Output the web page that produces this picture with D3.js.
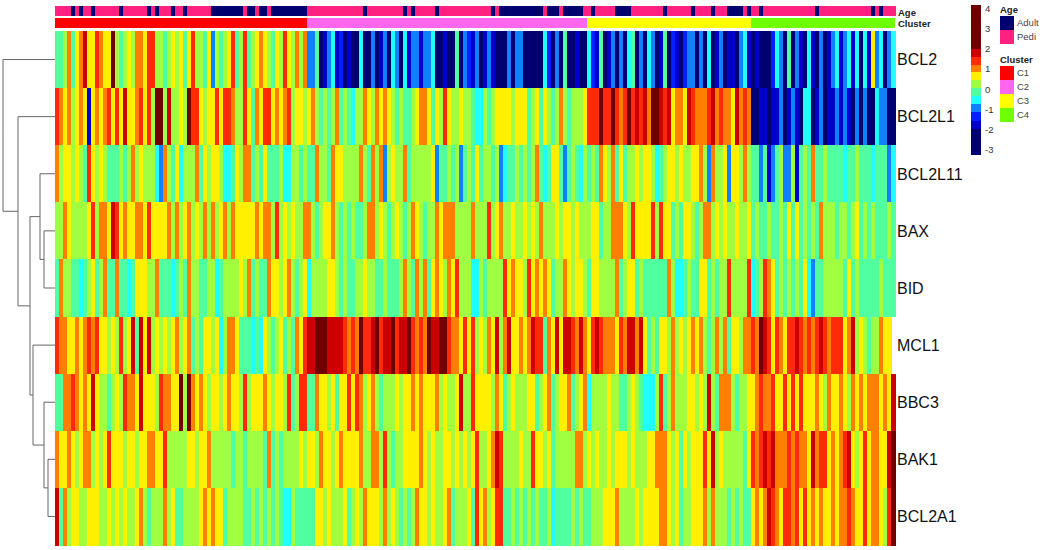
<!DOCTYPE html>
<html>
<head>
<meta charset="utf-8">
<script src="https://cdn.jsdelivr.net/npm/d3@7"></script>
<style>
  html, body { margin: 0; padding: 0; background: #fff; }
  svg { display: block; font-family: "Liberation Sans", Arial, sans-serif; }
</style>
</head>
<body>
<div id="chart"></div>
<script>
// expression values, one line per cluster (C1, C2, C3, C4)
const bcl2 = [
  -.1,-.1,.3,1,-.1,.6,1,1.8,.6,.6,1.4,1,.6,.6,2.5,.3,-.1,.3,.6,.3,1,1,.6,1.4,1.4,.3,.3,-.1,.3,.6,.3,.6,-.1,.6,1.4,.3,.3,-.1,.6,-1,.3,-.1,.3,.6,1.4,-.1,.3,1.4,-.1,.3,.6,1,.6,.3,-.1,.6,.3,1.4,.6,.3,1,.3,1,
  -1,-1,-.1,-2.5,-1.8,-1,-.5,-1.8,-1.4,-2.5,-1.8,-2.5,-2.5,-.5,-2.5,-2.5,-1,-2.5,-1.8,-1,-2.5,-.5,-1,-2.5,-.5,-1.8,-1,-1,-1.8,-1,-1,-.5,-2.5,-2.5,-1.8,-2.5,-2.5,-.1,-2.5,-1,-1.4,-1.8,-1,-2.5,-1.8,-1,-1.8,-2.5,-2.5,-2.5,-1,-2.5,-1,-1,-2.5,-2.5,-2.5,-2.5,-2.5,-.5,-1.4,-2.5,-1,-2.5,-.1,-2.5,-2.5,-1.8,-2.5,-2.5,
  -.5,-1.4,-1.8,-.1,-2.5,-1.8,-1,-2.5,-1,-2.5,-.5,-.1,-2.5,-1,-2.5,-.5,-1,-2.5,-1.8,-.1,-2.5,-1.4,-1.8,-2.5,-1.4,-1,-1,-2.5,-1,-2.5,-.5,-2.5,-1.8,-1,-2.5,-1.8,-1.8,-2.5,-1,-.5,-1.8,
  -2.5,-1.8,-2.5,-2.5,-2.5,-1.4,-.5,-1,-2.5,-.1,-2.5,-1,-1.8,-2.5,-.5,-1.8,-2.5,-1,-2.5,-1.8,-1,-.5,-1.8,-1,-.5,-1.8,-.5,-2.5,-.5,-1.8,.6,-1,-.5,-2.5,-1,-.5
];
const bcl2l1 = [
  1.4,1,.6,1,.3,.6,1,.6,-1.8,.6,1,.6,1,1.4,.6,1.4,.6,1.8,.6,.6,1,1.4,.6,1.4,.3,2.5,2.5,.3,1.8,.3,.3,.6,.3,2.5,1.4,1.4,.6,.3,.6,.6,1.4,.6,1.4,1.4,1,.3,.3,1.4,.6,-.1,1,.6,1.4,1.4,.6,1,.6,1,1.4,.3,.6,.6,.3,
  .6,1,.3,-.1,.3,-.1,.3,1,-.1,.3,-.1,-.5,.3,.3,1,.6,.3,1,.6,1,.6,.3,-.1,.3,-.1,-.1,.3,.6,1,1,.6,-.1,.6,.3,1.4,.6,.3,.3,.6,.3,.3,-.1,-.5,-.5,.3,-.1,.3,.6,.6,.6,.6,.3,.6,.6,.6,-.1,.3,.6,-.1,.6,.3,-.1,.3,1,.3,-.1,.3,.3,.3,.6,
  1.4,1.4,1.4,2.5,1.4,1.4,2.5,1.4,1,1.4,2.5,1.4,1.8,1.4,1.8,1,2.5,2.5,1.8,1.4,1.8,.6,1,1,.6,1.8,1.4,1,1,1,1.4,1.8,1,1.4,1,1,.6,1.8,1,1.4,1,
  -2.5,-2.5,-1.8,-1.8,-2.5,-1.8,-1.8,-1,-2.5,-1.8,-1,-1.8,-2.5,-.5,-.5,-2.5,-1.8,-1,-2.5,-1.8,-1.8,-1,-1.8,-1,-1.8,-2.5,-1,-2.5,-1,-2.5,-2.5,-.5,-1,-1,-2.5,-2.5
];
const bcl2l11 = [
  1,.3,.6,.6,.3,.6,.3,-.1,1.4,.6,.3,.6,.3,-.1,-.1,-.1,.3,-.1,.3,1,.3,.6,.3,.3,.3,-.5,-1,1,.3,-.1,.6,-.5,.3,.3,.3,1,-.1,.6,.3,.6,.6,.3,-.5,-.5,-.1,.6,.3,1,1,-.1,.3,-.1,.6,-.1,-.1,-.1,.3,-.5,-.5,.3,.3,-.1,.3,
  -.1,-.1,1,.3,.3,-.1,1,.6,.6,.3,.3,.3,.3,1,.3,-.1,1,.3,1,-1,.3,.6,.3,.3,1,-.1,.3,.3,.3,.3,.3,.6,-1,-.1,-.1,.3,-.1,.3,-1,-.1,.3,-.1,.6,-.1,.3,.3,-.1,.3,-1,-.5,-.1,-.1,.3,-.1,.3,-.1,.3,1,-.1,-.5,-.1,.6,.6,-.1,-1,-.1,.3,-.1,-.5,.3,
  -.1,.3,-.1,1,.6,.3,1,-.1,.6,-.1,.3,.3,.6,.3,.6,.6,.3,-.5,-.1,.3,.6,.6,.3,.6,.3,.3,.6,.6,1,.3,-1,1,.3,.3,.6,-1,.6,.6,.3,1,.3,
  -.1,-.1,-1,-.1,-1.8,-1,-.1,.3,-1,-1,.3,-1.8,-.1,.3,-.1,1,-.1,-.1,.3,-.1,-.1,-.1,-.1,-.5,-.1,-.1,.3,-.1,-.1,-.1,-.5,-.1,-.1,-.1,-1,-.5
];
const bax = [
  .3,.3,1,.6,.3,.3,.3,.3,.6,1.4,.3,1,1,.6,1.8,1.4,.6,1,.6,.6,1,1,.6,1.4,.6,.6,.6,.6,1,.3,1,.3,.6,1,.3,.6,.3,1,.3,1,.3,.6,1,.3,1,.6,.6,.6,.6,.6,1,.6,1,1,.3,1.4,.3,.6,.3,.6,.3,.3,1,
  1,.3,-.1,.3,.6,.6,1,.3,-.1,.3,-.1,.3,-.1,-.1,.3,1,1,.3,.6,.3,-.1,.3,.6,.3,-.1,.3,1,.6,.3,-.1,.3,.3,1,.6,1,1,1,.3,.3,.3,.3,1,.3,.3,.3,1.4,.3,.6,1,.3,.3,.6,.3,.3,.6,.3,.6,.3,1,.3,.3,.3,.6,.3,.6,.6,.3,.6,.3,.3,
  .3,.6,.6,-.1,.3,.3,1,1,1,.6,.3,1.4,.6,.6,.6,.6,1.4,.3,1.4,.6,.6,-.1,.3,-.1,.6,.6,.3,-.1,.3,1,1,.3,.6,.3,.6,.3,.3,.6,.3,.3,.6,
  -.1,.3,-.1,-.1,.3,-.1,-.1,.3,-.1,.6,-.1,.6,-.1,.3,-.1,.3,-.1,1,.3,.3,.3,-.1,.3,.3,-.1,.3,.6,-.1,.3,-.1,.3,-.1,-.1,-.1,.3,-.1
];
const bid = [
  -.1,1,.3,.3,-.1,-.1,-.5,-.1,.3,.6,-.1,.3,1,-.1,-.1,1,-.1,-.1,-.5,-.1,.6,.6,.6,.3,.3,1,-.1,-.1,-.1,-.5,-.1,.3,-.1,1,.3,.3,-.1,-.1,.3,.3,-.5,-.1,.3,.3,.3,.3,.6,.3,1,-.1,.3,-.1,-.1,1,.6,.6,.3,.6,1,.3,-.1,.3,.6,
  -.5,.3,.3,.3,.3,.6,.6,.3,-.1,.3,-.1,-.1,.3,.3,.6,.3,.3,-.1,-.1,.3,-.1,-.1,-.1,.3,1,.3,-.1,1,.3,1,-.1,.6,1,.6,.3,1,.6,1.4,.3,.3,.3,-.5,-.5,.3,-.1,.3,.3,.3,.3,1.4,.6,1,.6,.6,.3,1.4,.6,1,.6,1,.6,-.1,.3,.3,1,.6,.3,.6,.6,.3,
  -.1,.6,.6,.3,.3,.3,.3,1,-.1,.3,.6,.6,-.1,.3,-.1,-.1,-.1,-.1,-.1,-.1,1,.3,-.5,-.5,-.1,.3,-.1,-.1,.6,.6,-.1,.3,-.1,.3,.3,1.4,.3,.3,.3,.3,1.4,
  -.5,-.1,.3,1.4,1,.6,-.1,.3,-.1,.3,-.1,.3,-.1,.6,-.5,-1,-.1,-.1,.3,.3,.3,.3,.3,-.1,.6,-.1,.3,-.1,-.1,-.1,-.1,-.1,.3,-.1,-.1,-.1
];
const mcl1 = [
  1.4,1,1,.6,.6,1,.6,1,1.4,1,1.4,.6,.6,.3,.6,.3,1.4,.3,.6,1.8,-.1,1.8,.6,1.8,.3,.6,.3,.6,.3,.6,1,.3,.6,1,-.1,.3,-.1,.6,.6,.3,.6,-.5,.3,1,1,.6,-.1,-.1,-.1,-.5,-.1,-.5,.6,.3,-.1,.3,.6,-.1,.3,-.1,1,.6,1.4,
  1.8,1.8,2.5,2.5,2.5,1.8,1.8,1.8,1.8,1.4,1,1.4,1,2.5,1.4,1.4,1.8,2.5,1.4,1.8,1.8,2.5,1.4,1.8,1.8,2.5,1.4,1,1.4,1,2.5,1.8,1.8,2.5,2.5,1.4,1,1,.6,1.4,.6,1.4,.3,.6,.3,1,.6,1.8,.3,1,1.8,.6,.6,1,.6,1,1.8,1.4,1.4,-.1,1,.6,1.8,.6,1.8,1.8,1.4,1,1.8,1,
  .6,1.4,1.8,1.4,1,1,1,.6,1.4,1,1.8,1.8,1,1.8,.6,-.1,.3,-.1,.6,.6,.3,1,.3,.6,.3,.6,1,.6,1,.3,-.1,.3,1,.3,1,-.1,.6,.6,.3,1,
  1,1.4,1,2.5,1.8,1.4,.6,1.4,1,.6,1.4,1.4,1.8,1.4,1,1.4,1,1.4,1.8,1.4,1,1.4,1.4,1.4,.6,1,1.8,.3,.6,.3,-.1,.3,.3,1,.6,.6
];
const bbc3 = [
  -.1,-.1,1,1,1.4,1,.6,1,.6,1.8,.6,.3,.3,-.1,.3,.6,.3,1.4,1,1,.6,1.8,.6,.6,.6,.3,1.4,1,1,.6,.6,2.5,.3,2.5,1,.6,1,.6,.3,.6,.6,.3,.6,1,.6,.6,.3,1.4,.3,.6,.6,.6,1,.6,.3,.6,.6,.3,1.4,-.1,.3,1.4,1.4,
  -.1,-.1,1,.6,.6,.3,.6,-.1,.6,.6,1.4,.6,1.4,1,.3,.6,1,.3,-.1,.3,.3,.3,.6,.3,.6,.6,1,.6,1,.6,.6,.6,1,.3,.6,.3,.3,.6,1.8,.3,.3,1.4,.6,.6,.6,.6,.3,1,.6,-.1,.3,.6,.3,.3,.3,.6,.6,-.1,.3,.6,1,-.1,.3,.6,.6,1,-.1,.3,.6,1,
  -.5,.3,.3,.3,.3,.6,.3,.3,-.1,-.1,.3,.6,.3,-.1,-.5,-.5,-.5,.3,1.4,-.1,.3,1,.3,.3,.3,.6,.6,.3,.6,.3,1.8,.3,-.1,1,1,1,.3,-.1,.3,.3,.6,
  .6,1,1.4,1,1,1.4,.6,.6,1.4,.6,1.4,.6,1.4,.6,.6,.6,1,.6,.3,1,.6,.6,1,.6,.3,1,.6,1,.6,1,1,1,.6,1,.6,1.8
];
const bak1 = [
  1,.6,.6,1,.6,.3,.6,1,1,.3,.6,.3,.6,1.4,.6,.6,.6,.3,.6,.6,.3,.6,.6,1,1,.6,.6,1.4,.3,.3,.3,.3,.3,.6,.6,.3,.6,.6,1,.3,.3,.3,.3,.3,-.1,.3,.3,-.1,.3,.3,.3,.3,-.1,1,-.1,.3,-.1,.3,.3,.3,.3,.6,.3,
  .6,.6,.3,1,.6,.6,.3,.6,1,.6,.6,.6,.6,1,.3,.3,1,1,.3,1.4,.3,-.1,.3,.3,.6,.6,.6,.6,1,.6,.3,.6,.3,.3,.6,.6,.3,.6,.3,.6,.3,.6,1.4,.3,.3,.6,1,1.8,1.4,.3,.3,.3,.3,.6,.3,.3,1.4,.6,.6,.3,.6,-.1,.3,.3,.3,.3,.3,1,1,.3,
  .6,.3,.6,.3,.3,.6,.3,.6,.6,.6,.3,.6,.3,.3,.3,.6,.6,1,1,1,.6,.3,.6,-.1,.6,.3,.6,.6,.6,1.4,.6,1.8,.3,.6,.3,.3,.3,.3,.3,-.1,.6,
  1.4,1,1.4,1.8,1.4,1.8,1,1,1,1.4,1,1.4,1,1,.6,1.8,1,1.4,1.4,.6,1,.6,1,1.4,1.8,.6,.3,.6,1.4,.6,1,1,.6,.6,1.8,2.5
];
const bcl2a1 = [
  1.8,-.1,1,.3,.6,.6,.3,.3,.6,.6,.6,.3,.3,.6,.3,.6,.3,.6,.3,.3,.6,1,.3,-.1,.3,.3,.3,1,.3,.6,-.1,-.1,.3,.3,.3,.3,.6,1,.6,1,.6,.6,-.1,.3,.3,.3,.3,-.1,-.1,.3,-.1,.3,-.1,.3,-.1,.3,-.1,-.5,-.5,.3,-.1,-.1,-.1,
  -.1,-.1,.6,.6,.3,.6,.3,.3,.3,.6,-.1,.3,.6,.3,1,.6,.6,.6,.3,1,.3,.6,.3,-.1,.3,-.1,.3,1,.6,.6,.3,.6,.3,.3,.6,1,-.1,.3,.3,.3,.6,-.1,1.4,.6,1,.3,.6,1.4,1.4,-.1,-.1,.3,-.1,.3,-.1,.3,-.1,.3,-.1,-.1,.3,-.5,-.1,-.1,-.1,-.1,.3,-.1,.3,-.1,
  -.1,.3,.3,.3,.6,.6,.6,1,.3,.3,.3,.3,.6,.3,.6,.6,.6,.6,1,1,.6,.3,.6,-.1,.3,.3,.6,.6,.6,1,.3,1,.3,.3,.3,-.1,.3,-.1,.3,-.1,-.1,
  .6,1,.6,1,1.8,1.4,1,.6,1.4,1.4,1,1.4,.6,1.4,.6,1,.6,1,.6,.6,1,.6,1,1,1.4,1,.6,.6,1.4,.6,1,1,.6,.3,1.4,2.5
];
const geneRows = [bcl2, bcl2l1, bcl2l11, bax, bid, mcl1, bbc3, bak1, bcl2a1];
const geneNames = ["BCL2", "BCL2L1", "BCL2L11", "BAX", "BID", "MCL1", "BBC3", "BAK1", "BCL2A1"];

// column annotations
const clusterNames = ["C1", "C2", "C3", "C4"];
const clusterSizes = [63, 70, 41, 36];
const ageNames = ["Adult", "Pedi"];
const adultColumns = [4,6,9,16,23,25,29,32,39,40,41,42,43,44,45,46,48,49,51,52,54,55,56,57,58,59,60,61,62,77,87,89,95,109,111,112,113,114,115,116,117,118,119,120,121,123,124,125,127,128,129,130,131,134,140,141,142,143,152,159,164,168,169,170,171,173,176,190,204,206];

// colour key
const keyBreaks = [-1.95, -1.55, -1.15, -0.75, -0.35, 0.05, 0.45, 0.85, 1.2, 1.6, 2];
const keyColors = ["#000070", "#0000cc", "#0020ff", "#1080ff", "#20ffff", "#50ff9f", "#a0ff40", "#fff000", "#ff8000", "#ff2a0a", "#cc0000", "#700000"];
const keyTicks = [4, 3, 2, 1, 0, -1, -2, -3];
const keyRange = [-3.25, 4.15];

const ageColors = ["#000070", "#ff2080"];
const clusterColors = ["#ff0000", "#ff66ee", "#ffff00", "#70ff00"];

// dendrogram merges, height in arbitrary distance units
const tree = { h: 52, children: [
  { name: "BCL2" },
  { h: 37, children: [
    { name: "BCL2L1" },
    { h: 25, children: [
      { h: 15, children: [
        { name: "BCL2L11" },
        { h: 11, children: [{ name: "BAX" }, { name: "BID" }] }
      ]},
      { h: 22, children: [
        { name: "MCL1" },
        { h: 11, children: [
          { name: "BBC3" },
          { h: 7, children: [{ name: "BAK1" }, { name: "BCL2A1" }] }
        ]}
      ]}
    ]}
  ]}
]};

const width = 1050;
const height = 550;

const svg = d3.select("#chart").append("svg")
  .attr("width", width)
  .attr("height", height);

const columns = d3.range(bcl2.length);
const x = d3.scaleBand().domain(columns).range([55, 895]);
const y = d3.scaleBand().domain(geneNames).range([31, 545]);
const color = d3.scaleThreshold().domain(keyBreaks).range(keyColors);

// heatmap
const heat = svg.append("g").attr("shape-rendering", "crispEdges");
geneRows.forEach((row, i) => {
  heat.append("g")
    .selectAll("rect")
    .data(row)
    .join("rect")
    .attr("x", (d, j) => x(j))
    .attr("y", y(geneNames[i]))
    .attr("width", x.bandwidth() + 0.5)
    .attr("height", y.bandwidth() + 0.5)
    .attr("fill", d => color(d));
});

// annotation bars
const adultSet = new Set(adultColumns);
const annotation = svg.append("g").attr("shape-rendering", "crispEdges");
annotation.selectAll("rect.age")
  .data(columns)
  .join("rect")
  .attr("class", "age")
  .attr("x", d => x(d))
  .attr("y", 6)
  .attr("width", x.bandwidth() + 0.5)
  .attr("height", 10)
  .attr("fill", d => adultSet.has(d) ? ageColors[0] : ageColors[1]);

let start = 0;
const clusterSpans = clusterSizes.map((n, i) => {
  const span = { i: i, from: start, n: n };
  start += n;
  return span;
});
annotation.selectAll("rect.cluster")
  .data(clusterSpans)
  .join("rect")
  .attr("class", "cluster")
  .attr("x", d => x(d.from))
  .attr("y", 18)
  .attr("width", d => d.n * x.step())
  .attr("height", 10)
  .attr("fill", d => clusterColors[d.i]);

// row and annotation labels
svg.append("g").selectAll("text")
  .data(geneNames)
  .join("text")
  .attr("x", 897)
  .attr("y", d => y(d) + y.bandwidth() / 2)
  .attr("dy", "0.36em")
  .attr("font-size", 16)
  .attr("fill", "#111")
  .text(d => d);

svg.append("g").selectAll("text")
  .data([["Age", 15.5], ["Cluster", 27]])
  .join("text")
  .attr("x", 898)
  .attr("y", d => d[1])
  .attr("font-size", 9.5)
  .attr("font-weight", "bold")
  .attr("fill", "#222")
  .text(d => d[0]);

// dendrogram
const root = d3.hierarchy(tree);
const treeX = d3.scaleLinear().domain([0, tree.h]).range([55, 3]);
root.eachAfter(n => {
  n.py = n.children ? d3.mean(n.children, c => c.py) : y(n.data.name) + y.bandwidth() / 2;
  n.px = treeX(n.data.h || 0);
});
svg.append("g")
  .attr("fill", "none")
  .attr("stroke", "#666")
  .attr("stroke-width", 1)
  .selectAll("path")
  .data(root.links())
  .join("path")
  .attr("d", d => `M${d.source.px},${d.source.py}V${d.target.py}H${d.target.px}`);

// colour key
const keyY = d3.scaleLinear().domain(keyRange).range([155, 5]);
const keyEdges = [keyRange[0], ...keyBreaks, keyRange[1]];
svg.append("g")
  .attr("shape-rendering", "crispEdges")
  .selectAll("rect")
  .data(keyColors)
  .join("rect")
  .attr("x", 971)
  .attr("width", 10)
  .attr("y", (d, i) => keyY(keyEdges[i + 1]))
  .attr("height", (d, i) => keyY(keyEdges[i]) - keyY(keyEdges[i + 1]))
  .attr("fill", d => d);

const keyAxis = svg.append("g")
  .attr("transform", "translate(981,0)")
  .call(d3.axisRight(keyY).tickValues(keyTicks).tickSize(0).tickPadding(4).tickFormat(String));
keyAxis.select(".domain").remove();
keyAxis.selectAll("text")
  .attr("font-family", '"Liberation Sans", Arial, sans-serif')
  .attr("font-size", 9.5)
  .attr("fill", "#333");

// legends
function drawLegend(title, names, colors, top) {
  const g = svg.append("g").attr("transform", `translate(1000,${top})`);
  g.append("text")
    .attr("y", -3)
    .attr("font-size", 9.5)
    .attr("font-weight", "bold")
    .attr("fill", "#222")
    .text(title);
  g.selectAll("rect")
    .data(names)
    .join("rect")
    .attr("y", (d, i) => i * 14)
    .attr("width", 14)
    .attr("height", 14)
    .attr("shape-rendering", "crispEdges")
    .attr("fill", (d, i) => colors[i]);
  g.selectAll("text.item")
    .data(names)
    .join("text")
    .attr("class", "item")
    .attr("x", 17)
    .attr("y", (d, i) => i * 14 + 7)
    .attr("dy", "0.36em")
    .attr("font-size", 9.5)
    .attr("fill", "#444")
    .text(d => d);
}
drawLegend("Age", ageNames, ageColors, 16);
drawLegend("Cluster", clusterNames, clusterColors, 66);
</script>
</body>
</html>
